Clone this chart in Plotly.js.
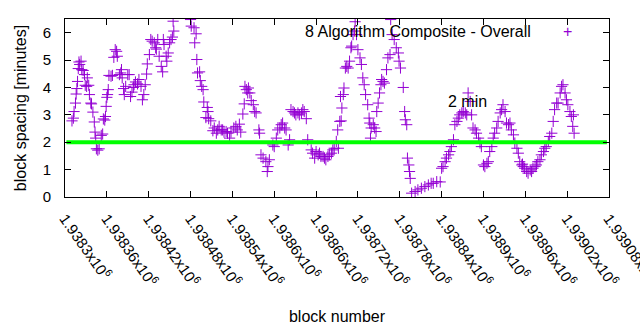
<!DOCTYPE html>
<html>
<head>
<meta charset="utf-8">
<script src="https://cdn.plot.ly/plotly-3.0.1.min.js"></script>
<style>html,body{margin:0;padding:0;background:#fff;}#chart{width:640px;height:330px;}</style>
</head>
<body>
<div id="chart"></div>
<script>
// block number (x) and block spacing in minutes (y)
const blockNumber = [
1938310,1938312,1938313,1938315,1938316,1938317,1938318,1938319,1938320,1938321,
1938323,1938324,1938326,1938328,1938329,1938331,1938332,1938334,1938335,1938337,
1938338,1938340,1938342,1938343,1938344,1938345,1938347,1938349,1938352,1938354,
1938355,1938357,1938358,1938359,1938360,1938361,1938362,1938363,1938366,1938368,
1938370,1938372,1938374,1938375,1938378,1938380,1938381,1938382,1938384,1938385,
1938387,1938390,1938392,1938394,1938396,1938398,1938399,1938401,1938404,1938406,
1938409,1938411,1938413,1938415,1938417,1938418,1938421,1938423,1938425,1938428,
1938430,1938431,1938433,1938435,1938438,1938440,1938441,1938442,1938445,1938446,
1938448,1938450,1938452,1938454,1938455,1938456,1938480,1938481,1938485,1938486,
1938488,1938489,1938490,1938493,1938494,1938496,1938498,1938499,1938502,1938504,
1938505,1938506,1938509,1938512,1938514,1938517,1938519,1938521,1938524,1938526,
1938528,1938531,1938533,1938536,1938538,1938542,1938545,1938547,1938550,1938552,
1938555,1938557,1938558,1938560,1938562,1938563,1938565,1938567,1938570,1938572,
1938574,1938578,1938579,1938581,1938584,1938588,1938590,1938591,1938593,1938598,
1938600,1938603,1938605,1938608,1938610,1938612,1938615,1938617,1938620,1938622,
1938624,1938627,1938629,1938631,1938634,1938636,1938639,1938641,1938643,1938646,
1938648,1938653,1938655,1938658,1938660,1938663,1938665,1938667,1938670,1938672,
1938674,1938677,1938679,1938682,1938684,1938686,1938689,1938691,1938692,1938694,
1938695,1938696,1938697,1938699,1938700,1938702,1938704,1938706,1938708,1938710,
1938711,1938713,1938715,1938716,1938718,1938720,1938723,1938725,1938727,1938729,
1938731,1938734,1938736,1938737,1938738,1938739,1938742,1938744,1938746,1938747,
1938749,1938751,1938753,1938754,1938756,1938758,1938761,1938763,1938766,1938767,
1938769,1938772,1938775,1938778,1938779,1938781,1938785,1938787,1938788,1938790,
1938791,1938793,1938794,1938795,1938797,1938802,1938806,1938811,1938816,1938821,
1938825,1938828,1938833,1938838,1938840,1938842,1938845,1938847,1938850,1938852,
1938854,1938857,1938859,1938862,1938864,1938866,1938869,1938871,1938874,1938876,
1938878,1938881,1938883,1938885,1938888,1938890,1938893,1938895,1938897,1938900,
1938902,1938905,1938907,1938909,1938912,1938914,1938916,1938919,1938921,1938924,
1938926,1938928,1938931,1938933,1938936,1938938,1938940,1938943,1938945,1938948,
1938950,1938952,1938955,1938956,1938957,1938959,1938962,1938964,1938967,1938969,
1938971,1938974,1938976,1938978,1938981,1938983,1938986,1938988,1938990,1938993,
1938995,1938998,1939000,1939002,1939005,1939007,1939010,1939012,1939014,1939017,
1939019,1939021,1939024,1939026,1939028,1939029,1939030
];
const spacingMinutes = [
2.78,2.88,3.12,3.43,3.76,3.96,4.22,4.69,4.93,4.84,
4.96,4.65,4.62,4.47,4.08,4.04,4.35,4.08,3.74,3.43,
3.40,3.10,2.74,2.37,2.15,1.76,1.71,1.76,2.25,2.30,
2.85,2.81,2.94,3.31,3.64,3.74,3.92,4.44,4.41,4.44,
5.10,5.38,5.32,5.14,4.47,4.53,4.65,4.35,3.96,3.74,
4.04,4.47,4.47,3.67,3.83,4.00,4.10,4.20,4.13,4.29,
4.04,3.55,3.74,4.10,4.49,4.86,5.20,5.75,5.69,5.63,
5.45,5.40,5.75,5.14,4.77,4.57,5.75,5.57,5.14,4.96,
5.26,5.63,5.75,5.84,6.42,6.06,6.48,6.24,6.18,5.63,
5.96,5.02,4.53,4.57,4.25,4.04,3.92,3.47,2.90,3.27,
3.12,2.86,2.78,2.42,2.52,2.33,2.45,2.58,2.45,2.45,
2.37,2.39,2.33,2.15,2.37,2.52,2.58,2.45,2.66,2.37,
3.03,3.40,4.04,3.92,3.80,3.98,3.80,3.52,3.37,3.12,
3.07,2.45,2.33,1.54,1.42,1.29,0.93,1.11,1.36,1.90,
1.84,2.15,2.45,2.52,2.64,2.70,2.52,2.45,1.90,2.09,
3.19,3.12,3.07,3.00,3.07,3.00,3.07,3.19,3.12,2.86,
2.09,1.72,1.60,1.42,1.66,1.54,1.60,1.48,1.48,1.42,
1.36,1.48,1.54,1.60,1.72,1.78,2.03,2.45,1.78,2.76,
3.67,2.78,3.25,3.74,3.98,4.71,4.77,4.71,4.96,5.45,
5.51,5.93,6.06,6.40,5.93,5.38,5.08,4.84,4.35,4.10,
3.74,3.37,2.88,2.70,2.15,2.52,2.64,2.52,2.39,3.12,
3.43,3.80,4.10,4.29,4.22,4.16,4.65,5.08,5.20,6.48,
5.93,5.75,5.45,5.26,4.96,4.71,4.00,3.12,2.82,2.64,
1.42,1.17,0.93,0.68,0.14,0.20,0.26,0.32,0.38,0.44,
0.50,0.50,0.56,0.55,1.05,1.11,1.29,1.42,1.54,1.66,
1.84,2.09,2.64,2.76,2.88,3.00,3.07,3.12,3.07,3.00,
3.80,3.49,3.00,2.52,2.45,2.33,2.15,1.97,1.84,1.17,
1.11,1.23,1.29,1.66,1.84,2.15,2.33,2.52,2.76,3.07,
3.19,3.37,3.12,2.70,2.64,2.70,2.45,2.27,1.97,1.78,
1.60,1.29,1.17,1.20,1.11,1.05,0.93,0.87,0.99,0.93,
1.05,1.11,1.17,1.29,1.36,1.54,1.66,1.78,1.84,2.03,
2.21,2.33,2.76,3.19,3.43,3.43,3.80,4.04,4.10,3.80,
3.55,3.37,3.12,2.94,2.58,3.00,2.33
];
// 2 minute target line
const targetBlocks = [1938302, 1939077];
const targetMinutes = [2, 2];
const targetLabel = "2 min";
const seriesName = "8 Algorithm Composite - Overall";
// x axis ticks
const xTickValues = [1938300,1938360,1938420,1938480,1938540,1938600,1938660,1938720,1938780,1938840,1938900,1938960,1939020,1939080];
const xTickLabels = ["1.9383","1.93836","1.93842","1.93848","1.93854","1.9386","1.93866","1.93872","1.93878","1.93884","1.9389","1.93896","1.93902","1.93908"];
const yTickValues = [0,1,2,3,4,5,6];

const FONT = "Liberation Sans, Arial, sans-serif";
const PURPLE = "#9400d3";

const traces = [
  {
    type: "scatter", mode: "markers", x: blockNumber, y: spacingMinutes,
    name: seriesName, showlegend: false, cliponaxis: true,
    marker: {symbol: "cross-thin-open", size: 8, color: PURPLE, line: {color: PURPLE, width: 1}}
  },
  {
    type: "scatter", mode: "lines", x: targetBlocks, y: targetMinutes,
    showlegend: false, hoverinfo: "skip",
    line: {color: "#00ff00", width: 4}
  }
];

const layout = {
  width: 640, height: 330,
  margin: {l: 65, r: 31, t: 19, b: 133, pad: 0},
  paper_bgcolor: "#ffffff", plot_bgcolor: "#ffffff",
  font: {family: FONT, size: 16, color: "#000"},
  showlegend: false,
  xaxis: {
    range: [xTickValues[0] - 0.01, xTickValues[xTickValues.length - 1] + 0.01],
    tickmode: "array", tickvals: xTickValues,
    ticktext: xTickLabels.map(t => t + "x10<sup>6</sup>"),
    tickangle: 55, tickfont: {family: FONT, size: 15, color: "#000"},
    ticks: "inside", ticklen: 6, tickwidth: 1, tickcolor: "#000",
    ticklabelstandoff: 6, ticklabeloverflow: "allow",
    showline: true, linecolor: "#000", linewidth: 1, mirror: "ticks",
    showgrid: false, zeroline: false, automargin: false,
    title: {text: "block number", font: {family: FONT, size: 16, color: "#000"}, standoff: 22}
  },
  yaxis: {
    range: [0, 6.5],
    tickmode: "array", tickvals: yTickValues,
    tickfont: {family: FONT, size: 15, color: "#000"},
    ticks: "inside", ticklen: 6, tickwidth: 1, tickcolor: "#000",
    ticklabelstandoff: 10,
    showline: true, linecolor: "#000", linewidth: 1, mirror: "ticks",
    showgrid: false, zeroline: false, automargin: false,
    title: {text: "block spacing [minutes]", font: {family: FONT, size: 16, color: "#000"}, standoff: 12}
  },
  annotations: [
    {xref: "paper", yref: "paper", x: 0.860, y: 0.927, xanchor: "right", yanchor: "middle",
     text: seriesName, showarrow: false, font: {family: FONT, size: 16, color: "#000"}},
    {xref: "paper", yref: "paper", x: 0.923, y: 0.927, xanchor: "center", yanchor: "middle",
     text: "+", showarrow: false, font: {family: FONT, size: 16, color: PURPLE}},
    {xref: "x", yref: "y", x: 1938846, y: 3.5, xanchor: "left", yanchor: "middle",
     text: targetLabel, showarrow: false, font: {family: FONT, size: 16, color: "#000"}}
  ]
};

Plotly.newPlot("chart", traces, layout, {staticPlot: true, displayModeBar: false});
</script>
</body>
</html>
